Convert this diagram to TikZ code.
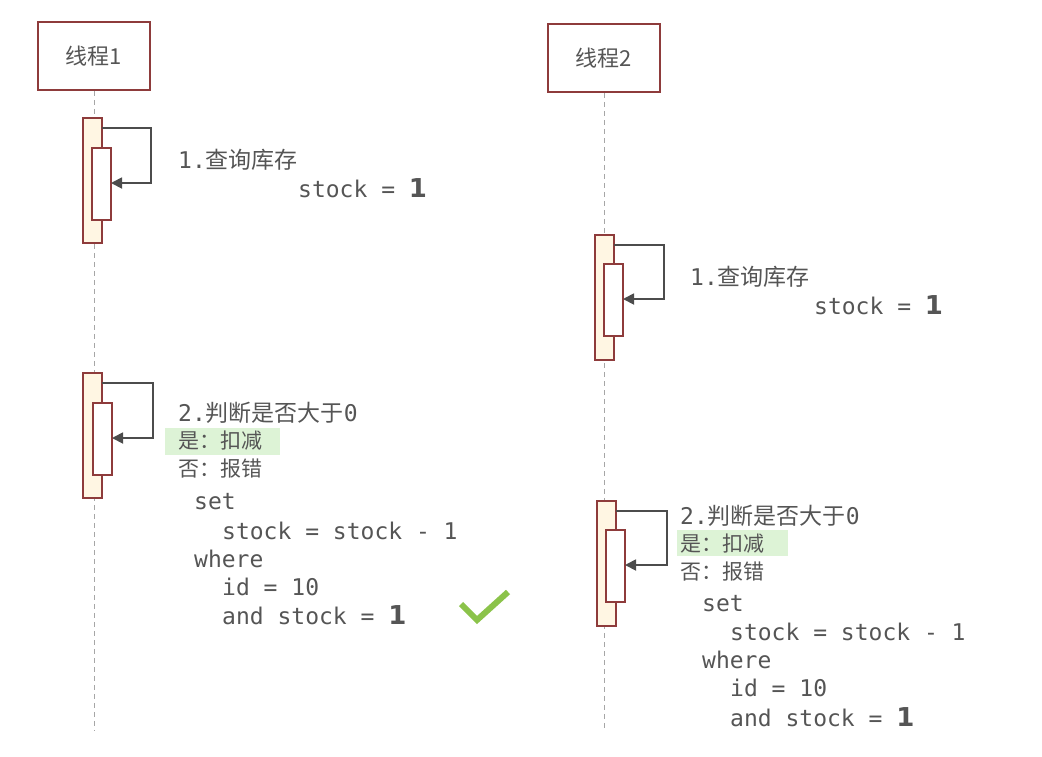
\documentclass[tikz,border=0pt]{standalone}
\usepackage{fontspec}
\setmonofont{DejaVu Sans Mono}
\newfontfamily\cjk{Noto Sans CJK SC}
\newfontfamily\bsans{DejaVu Sans}
\usetikzlibrary{arrows.meta}
\definecolor{bord}{HTML}{8E3B3B}
\definecolor{actf}{HTML}{FFF6E3}
\definecolor{txt}{HTML}{555555}
\definecolor{hl}{HTML}{DDF3D6}
\definecolor{ok}{HTML}{8BC34A}
\newcommand{\bigone}{{\bsans\bfseries\fontsize{26}{28}\selectfont 1}}
\begin{document}
\begin{tikzpicture}[x=1pt,y=-1pt,
  head/.style={draw=bord,line width=1.5pt,fill=white,minimum width=112pt,minimum height=68pt,font=\cjk\fontsize{22}{24}\selectfont,text=txt},
  life/.style={draw=gray!70,dash pattern=on 5pt off 4pt,line width=1pt},
  act/.style={draw=bord,line width=1.5pt,fill=actf},
  inn/.style={draw=bord,line width=1.5pt,fill=white},
  self/.style={draw=txt!90!black,line width=1.8pt,-{Triangle[length=11pt,width=11pt]}},
  t/.style={anchor=west,inner sep=0pt,text=txt,font=\ttfamily\fontsize{23}{26}\selectfont},
  c/.style={anchor=west,inner sep=0pt,text=txt,font=\cjk\fontsize{21}{24}\selectfont}]
\useasboundingbox (0,0) rectangle (1042,756);
\node[head] (h1) at (94,56) {线程1};
\node[head] (h2) at (604,58) {线程2};
\coordinate (e1) at (94,730);
\coordinate (e2) at (604,730);
\draw[life] (h1.south) -- (e1);
\draw[life] (h2.south) -- (e2);
\newcommand{\actv}[6]{%
  \path[act] (#2,#3) rectangle ++(19,125);
  \path[inn] (#4,#5) rectangle ++(19,72);
  \coordinate (#1s) at (#2+19,#3+10);
  \coordinate (#1e) at (#4+19,#5+35);
  \draw[self] (#1s) -| (#6,#5+35) -- (#1e);}
\actv{a}{83}{118}{92}{148}{151}
\actv{b}{83}{373}{93}{403}{153}
\actv{c}{595}{235}{604}{264}{664}
\actv{d}{597}{501}{606}{530}{667}
\node[t] (q1) at (178,160) {1.{\cjk 查询库存}};
\node[t] (s1) at (298,188) {stock = \bigone};
\fill[hl] (165,428) rectangle (280,455);
\node[t] (j1) at (178,413) {2.{\cjk 判断是否大于}0};
\node[c] (y1) at (178,441) {是：扣减};
\node[c] (n1) at (178,469) {否：报错};
\node[t] at (194,502) {set};
\node[t] at (222,531) {stock = stock - 1};
\node[t] at (194,559) {where};
\node[t] at (222,587) {id = 10};
\node[t] at (222,615) {and stock = \bigone};
\draw[ok,line width=6pt] (461,604) -- (477,620) -- (508,592);
\node[t] at (690,277) {1.{\cjk 查询库存}};
\node[t] at (814,305) {stock = \bigone};
\fill[hl] (677,530) rectangle (788,556);
\node[t] at (680,516) {2.{\cjk 判断是否大于}0};
\node[c] at (680,544) {是：扣减};
\node[c] at (680,572) {否：报错};
\node[t] at (702,604) {set};
\node[t] at (730,632) {stock = stock - 1};
\node[t] at (702,660) {where};
\node[t] at (730,688) {id = 10};
\node[t] at (730,717) {and stock = \bigone};
\end{tikzpicture}
\end{document}
